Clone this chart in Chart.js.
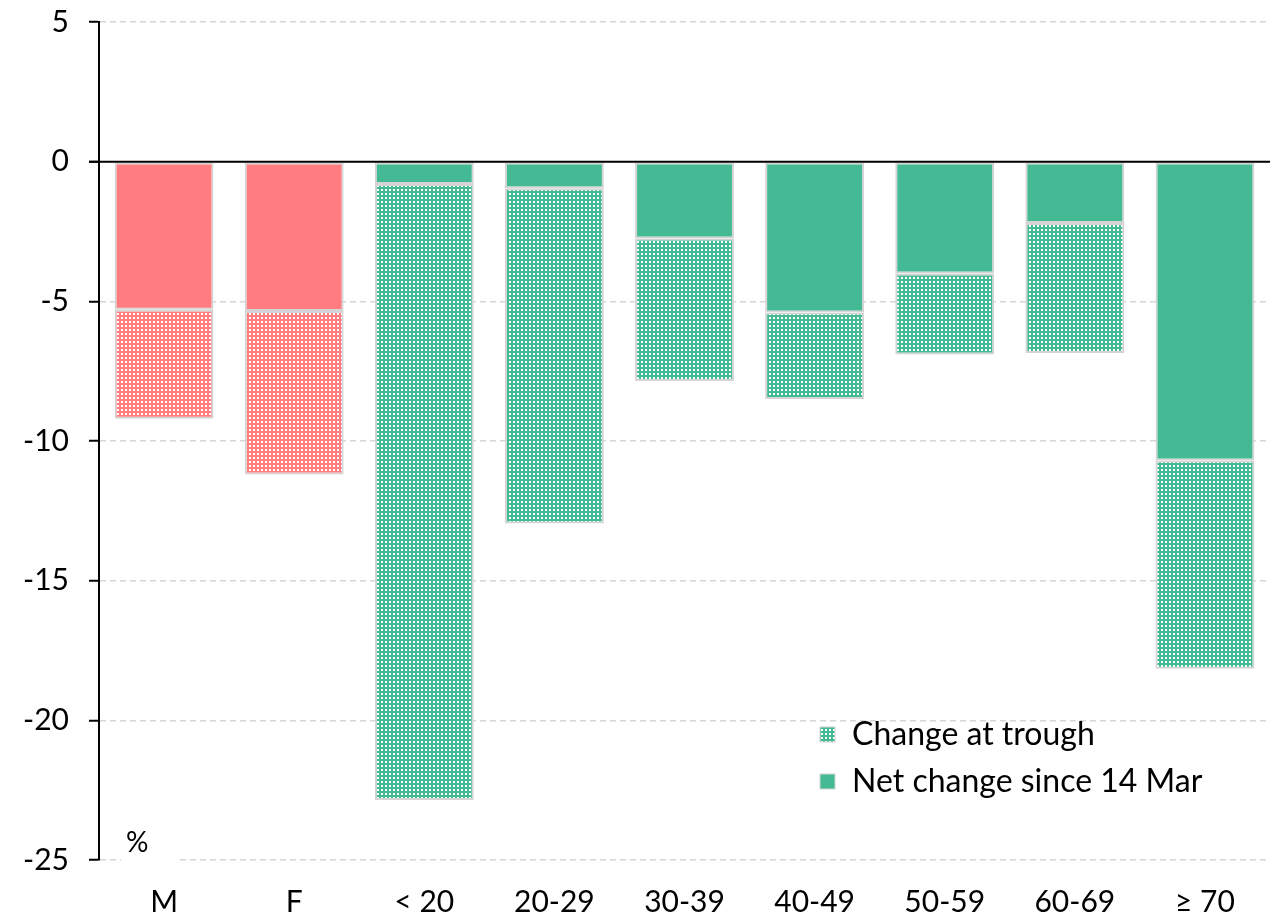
<!DOCTYPE html>
<html>
<head>
<meta charset="utf-8">
<script src="https://cdn.jsdelivr.net/npm/chart.js@4.4.1/dist/chart.umd.min.js"></script>
<style>
  html, body { margin: 0; padding: 0; background: #fff; }
  #wrap { width: 1281px; height: 920px; }
</style>
</head>
<body>
<div id="wrap"><canvas id="bar-chart" width="1281" height="920"></canvas></div>
<script>
// values (%)
var categories = ['M', 'F', '< 20', '20-29', '30-39', '40-49', '50-59', '60-69', '\u2265 70'];
var netChange = [-5.3, -5.35, -0.8, -0.95, -2.75, -5.4, -4.0, -2.2, -10.7];
var troughChange = [-9.2, -11.2, -22.85, -12.95, -7.85, -8.5, -6.9, -6.85, -18.15];
var yTicks = [5, 0, -5, -10, -15, -20, -25];

var RED = '#ff7c80';
var GREEN = '#43b994';
var FONT = 'Lato, "Open Sans", sans-serif';

var canvas = document.getElementById('bar-chart');
var ctx = canvas.getContext('2d');

function dotted(color) {
  var c = document.createElement('canvas');
  c.width = 4; c.height = 4;
  var p = c.getContext('2d');
  p.fillStyle = color;
  p.fillRect(0, 0, 4, 4);
  p.fillStyle = '#ffffff';
  p.fillRect(1, 1, 2, 2);
  return ctx.createPattern(c, 'repeat');
}

var solidColors = categories.map(function (c, i) { return i < 2 ? RED : GREEN; });
var dotColors = categories.map(function (c, i) { return dotted(i < 2 ? RED : GREEN); });
// part of the trough drop that has been recovered since
var recovered = troughChange.map(function (v, i) { return v - netChange[i]; });

var extras = {
  id: 'extras',
  afterDatasetsDraw: function (chart) {
    var c = chart.ctx, a = chart.chartArea;
    var y0 = chart.scales.y.getPixelForValue(0);
    c.save();
    c.strokeStyle = '#000';
    c.lineWidth = 2;
    c.beginPath();
    c.moveTo(a.left - 10, y0);
    c.lineTo(a.right, y0);
    c.stroke();
    c.restore();
  },
  afterDraw: function (chart) {
    var c = chart.ctx, a = chart.chartArea;
    c.save();
    // % unit label
    c.fillStyle = '#fff';
    c.fillRect(a.left + 22, a.bottom - 4, 57, 8);
    c.fillStyle = '#000';
    c.font = '28px ' + FONT;
    c.textAlign = 'left';
    c.textBaseline = 'middle';
    c.fillText('%', a.left + 27, a.bottom - 17);

    // legend
    var lx = a.right - 450;
    var items = [
      { text: 'Change at trough', fill: dotted(GREEN), y: a.bottom - 126 },
      { text: 'Net change since 14 Mar', fill: GREEN, y: a.bottom - 79 }
    ];
    items.forEach(function (it) {
      c.fillStyle = it.fill;
      c.fillRect(lx, it.y - 7, 15, 15);
      c.strokeStyle = '#d4d4d4';
      c.lineWidth = 1;
      c.strokeRect(lx, it.y - 7, 15, 15);
      c.fillStyle = '#000';
      c.font = '32px ' + FONT;
      c.fillText(it.text, lx + 32, it.y + 1);
    });
    c.restore();
  }
};

new Chart(canvas, {
  type: 'bar',
  data: {
    labels: categories,
    datasets: [
      {
        label: 'Net change since 14 Mar',
        data: netChange,
        backgroundColor: solidColors,
        borderColor: '#d4d4d4',
        borderWidth: 2,
        borderSkipped: false
      },
      {
        label: 'Change at trough',
        data: recovered,
        backgroundColor: dotColors,
        borderColor: '#d4d4d4',
        borderWidth: 2,
        borderSkipped: false
      }
    ]
  },
  options: {
    responsive: false,
    animation: false,
    devicePixelRatio: 1,
    layout: { padding: { top: 22, right: 11, left: 0, bottom: 0 } },
    plugins: {
      legend: { display: false },
      tooltip: { enabled: false }
    },
    datasets: {
      bar: { categoryPercentage: 1, barPercentage: 0.76 }
    },
    scales: {
      x: {
        stacked: true,
        grid: { display: false, drawTicks: false },
        border: { display: false },
        ticks: { color: '#000', font: { family: FONT, size: 30 }, padding: 24 },
        afterFit: function (s) { s.height = 60; s.paddingLeft = 0; s.paddingRight = 0; }
      },
      y: {
        stacked: true,
        min: -25,
        max: 5,
        afterBuildTicks: function (s) {
          s.ticks = yTicks.map(function (v) { return { value: v }; });
        },
        grid: {
          color: function (c) { return c.tick && c.tick.value === 0 ? 'rgba(0,0,0,0)' : '#d6d6d6'; },
          lineWidth: 1.5,
          tickColor: '#000',
          tickWidth: 2,
          tickLength: 10
        },
        border: { display: true, color: '#000', width: 2, dash: [6, 4] },
        ticks: { color: '#000', font: { family: FONT, size: 30 }, padding: 20 },
        afterFit: function (s) { s.width = 99; s.paddingTop = 0; s.paddingBottom = 0; }
      }
    }
  },
  plugins: [extras]
});
</script>
</body>
</html>
